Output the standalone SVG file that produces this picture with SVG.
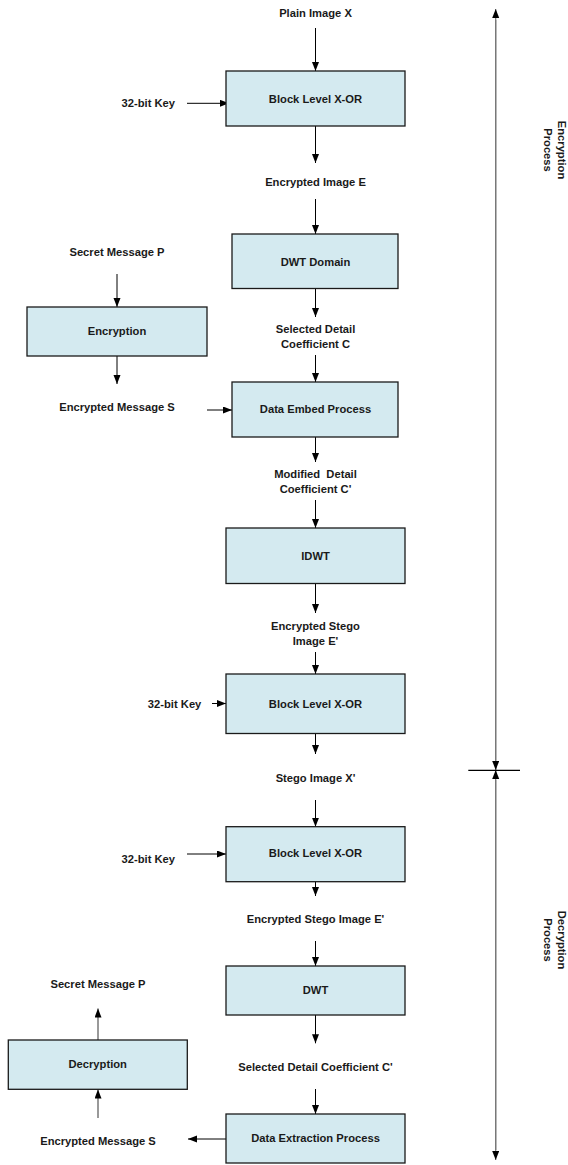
<svg xmlns="http://www.w3.org/2000/svg" width="568" height="1165" viewBox="0 0 568 1165">
  <style>
    .box { fill: #d4eaf0; stroke: #1a1a1a; stroke-width: 1.3; }
    .t { font-family: "Liberation Sans", Arial, sans-serif; font-weight: bold; font-size: 11.2px; fill: #1a1a1a; text-anchor: middle; }
    .a { stroke: #000; stroke-width: 1; fill: none; marker-end: url(#ah); }
    .ag { stroke: #555; stroke-width: 1.2; fill: none; marker-end: url(#ah); }
    .side { stroke: #777; stroke-width: 1.2; fill: none; marker-end: url(#ah); }
  </style>
  <defs>
    <marker id="ah" markerUnits="userSpaceOnUse" markerWidth="10" markerHeight="8" refX="9" refY="3.5" orient="auto">
      <path d="M0,0 L9,3.5 L0,7 z" fill="#000"/>
    </marker>
  </defs>
  <rect width="568" height="1165" fill="#fff"/>

  <!-- connectors -->
  <g id="connectors">
    <line class="a" x1="315.5" y1="28" x2="315.5" y2="71"/>
    <line class="a" x1="187" y1="103.3" x2="229" y2="103.3"/>
    <line class="a" x1="315.5" y1="126" x2="315.5" y2="163"/>
    <line class="a" x1="315.5" y1="199" x2="315.5" y2="234"/>
    <line class="a" x1="315.5" y1="288.5" x2="315.5" y2="317"/>
    <line class="a" x1="315.5" y1="355" x2="315.5" y2="382"/>
    <line class="a" x1="117" y1="274" x2="117" y2="307"/>
    <line class="a" x1="117" y1="356" x2="117" y2="384"/>
    <line class="a" x1="207" y1="410" x2="232" y2="410"/>
    <line class="a" x1="315.5" y1="437" x2="315.5" y2="462"/>
    <line class="a" x1="315.5" y1="500" x2="315.5" y2="528"/>
    <line class="a" x1="315.5" y1="583.5" x2="315.5" y2="613"/>
    <line class="a" x1="315.5" y1="652" x2="315.5" y2="674"/>
    <line class="a" x1="212" y1="703.5" x2="226" y2="703.5"/>
    <line class="a" x1="315.5" y1="733.5" x2="315.5" y2="754"/>
    <line class="a" x1="315.5" y1="800" x2="315.5" y2="826.7"/>
    <line class="a" x1="187" y1="854" x2="226" y2="854"/>
    <line class="a" x1="315.5" y1="881.7" x2="315.5" y2="896"/>
    <line class="a" x1="315.5" y1="941" x2="315.5" y2="966"/>
    <line class="a" x1="315.5" y1="1015" x2="315.5" y2="1043.3"/>
    <line class="a" x1="315.5" y1="1089" x2="315.5" y2="1114"/>
    <line class="a" x1="226" y1="1139" x2="188" y2="1139"/>
    <line class="ag" x1="98" y1="1118" x2="98" y2="1089.5"/>
    <line class="ag" x1="98" y1="1040" x2="98" y2="1008.5"/>

    <!-- process span markers on the right -->
    <line class="side" x1="495.7" y1="770" x2="495.7" y2="9"/>
    <line class="side" x1="495.7" y1="20" x2="495.7" y2="770"/>
    <line class="side" x1="495.7" y1="1150" x2="495.7" y2="770"/>
    <line class="side" x1="495.7" y1="780" x2="495.7" y2="1160"/>
    <line x1="468.3" y1="770.3" x2="520" y2="770.3" stroke="#000" stroke-width="1.2"/>
  </g>

  <!-- encryption path -->
  <g id="plain-image"><text class="t" x="315.5" y="17">Plain Image X</text></g>
  <g id="key-1"><text class="t" x="148.3" y="107">32-bit Key</text></g>
  <g id="xor-1">
    <rect class="box" x="226" y="71" width="179" height="55"/>
    <text class="t" x="315.5" y="102.7">Block Level X-OR</text>
  </g>
  <g id="encrypted-image"><text class="t" x="315.5" y="186">Encrypted Image E</text></g>
  <g id="dwt-domain">
    <rect class="box" x="232" y="234" width="166" height="54.5"/>
    <text class="t" x="315.5" y="265.7">DWT Domain</text>
  </g>
  <g id="selected-coeff">
    <text class="t" x="315.5" y="333">Selected Detail</text>
    <text class="t" x="315.5" y="348">Coefficient C</text>
  </g>
  <g id="secret-message"><text class="t" x="117" y="255.7">Secret Message P</text></g>
  <g id="encryption">
    <rect class="box" x="27" y="307" width="180" height="49"/>
    <text class="t" x="117" y="334.7">Encryption</text>
  </g>
  <g id="encrypted-message"><text class="t" x="117" y="411">Encrypted Message S</text></g>
  <g id="data-embed">
    <rect class="box" x="232" y="382" width="166" height="55"/>
    <text class="t" x="315.5" y="413">Data Embed Process</text>
  </g>
  <g id="modified-coeff">
    <text class="t" x="315.5" y="477.7" xml:space="preserve">Modified  Detail</text>
    <text class="t" x="315.5" y="492.7">Coefficient C'</text>
  </g>
  <g id="idwt">
    <rect class="box" x="226" y="528" width="179" height="55.5"/>
    <text class="t" x="315.5" y="560">IDWT</text>
  </g>
  <g id="encrypted-stego">
    <text class="t" x="315.5" y="630">Encrypted Stego</text>
    <text class="t" x="315.5" y="645">Image E'</text>
  </g>
  <g id="key-2"><text class="t" x="174.6" y="707.7">32-bit Key</text></g>
  <g id="xor-2">
    <rect class="box" x="226" y="674" width="179" height="59.5"/>
    <text class="t" x="315.5" y="707.7">Block Level X-OR</text>
  </g>
  <g id="stego-image"><text class="t" x="315.5" y="781.7">Stego Image X'</text></g>

  <!-- decryption path -->
  <g id="key-3"><text class="t" x="148.3" y="863">32-bit Key</text></g>
  <g id="xor-3">
    <rect class="box" x="226" y="826.7" width="179" height="55"/>
    <text class="t" x="315.5" y="857.3">Block Level X-OR</text>
  </g>
  <g id="encrypted-stego-2"><text class="t" x="315.5" y="923">Encrypted Stego Image E'</text></g>
  <g id="dwt">
    <rect class="box" x="226" y="966" width="179" height="49"/>
    <text class="t" x="315.5" y="994">DWT</text>
  </g>
  <g id="selected-coeff-2"><text class="t" x="315.5" y="1070.7">Selected Detail Coefficient C'</text></g>
  <g id="data-extraction">
    <rect class="box" x="226" y="1114" width="179" height="49"/>
    <text class="t" x="315.5" y="1141.7">Data Extraction Process</text>
  </g>
  <g id="encrypted-message-2"><text class="t" x="98" y="1144.7">Encrypted Message S</text></g>
  <g id="decryption">
    <rect class="box" x="8.3" y="1040" width="179" height="49.3"/>
    <text class="t" x="97.7" y="1068.3">Decryption</text>
  </g>
  <g id="secret-message-2"><text class="t" x="98" y="988.3">Secret Message P</text></g>

  <!-- side labels -->
  <g id="label-encryption">
    <text class="t" transform="translate(558,150) rotate(90)"><tspan x="0" y="0">Encryption</tspan><tspan x="0" y="14">Process</tspan></text>
  </g>
  <g id="label-decryption">
    <text class="t" transform="translate(558,940) rotate(90)"><tspan x="0" y="0">Decryption</tspan><tspan x="0" y="14">Process</tspan></text>
  </g>
</svg>
